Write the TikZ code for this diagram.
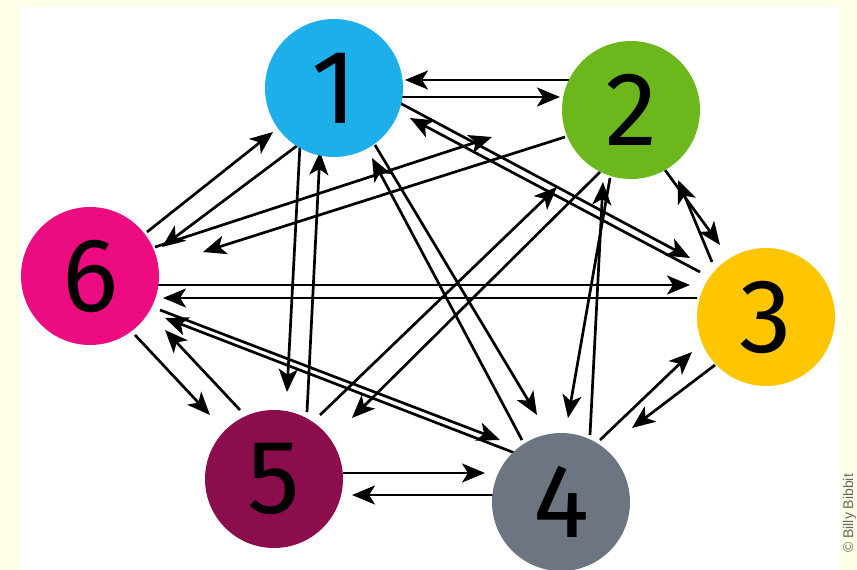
\documentclass[tikz,border=0pt]{standalone}
\usepackage{fontspec}
\setmainfont{Fira Sans}
\newfontfamily\crfont{Liberation Sans}
\usetikzlibrary{arrows.meta,calc,backgrounds}
\pgfdeclarelayer{arrows}
\pgfsetlayers{background,arrows,main}
\definecolor{bgyellow}{HTML}{FFFFE8}
\definecolor{c1}{HTML}{1CAFE9}
\definecolor{c2}{HTML}{6CB81C}
\definecolor{c3}{HTML}{FEC600}
\definecolor{c4}{HTML}{6C7581}
\definecolor{c5}{HTML}{8B0D4B}
\definecolor{c6}{HTML}{EC0B80}
\begin{document}
\begin{tikzpicture}[x=1pt,y=-1pt,
  ball/.style={circle,minimum size=138pt,inner sep=0pt,font=\fontsize{105}{105}\selectfont},
  arr/.style={line width=2.7pt,black,-{Stealth[length=23pt,width=19pt,inset=6pt]}}]
\useasboundingbox (0,0) rectangle (857,570);
\begin{scope}[on background layer]
\fill[bgyellow] (0,0) rectangle (857,570);
\fill[white] (20,6) rectangle (840,570);
\end{scope}
\node[ball,fill=c1] (n1) at (334,88) {1};
\node[ball,fill=c2] (n2) at (631,110) {2};
\node[ball,fill=c3] (n3) at (766,317) {3};
\node[ball,fill=c4] (n4) at (561,502) {4};
\node[ball,fill=c5] (n5) at (274,479) {5};
\node[ball,fill=c6] (n6) at (90,276) {6};
\node[rotate=90,anchor=base west,inner sep=0pt,text=gray!80!black,font=\crfont\fontsize{14}{14}\selectfont] (cr) at (853,553) {© Billy Bibbit};
\begin{pgfonlayer}{arrows}
\draw[arr] ($(n1)+(61,9)$) -- ($(n2)+(-71,-13)$);
\draw[arr] ($(n2)+(-62,-30)$) -- ($(n1)+(71,-8)$);
\draw[arr] ($(n1)+(64,14)$) -- ($(n3)+(-76,-59)$);
\draw[arr] ($(n3)+(-66,-45)$) -- ($(n1)+(76,30)$);
\draw[arr] ($(n1)+(41,57)$) -- ($(n4)+(-24,-87)$);
\draw[arr] ($(n4)+(-39,-62)$) -- ($(n1)+(38,70)$);
\draw[arr] ($(n1)+(-34,57)$) -- ($(n5)+(13,-87)$);
\draw[arr] ($(n5)+(33,-67)$) -- ($(n1)+(-14,64)$);
\draw[arr] ($(n6)+(57,-44)$) -- ($(n1)+(-61,44)$);
\draw[arr] ($(n1)+(-32,54)$) -- ($(n6)+(72,-29)$);
\draw[arr] ($(n2)+(-66,27)$) -- ($(n6)+(113,-24)$);
\draw[arr] ($(n6)+(65,-29)$) -- ($(n2)+(-139,27)$);
\draw[arr] ($(n2)+(34,60)$) -- ($(n3)+(-46,-72)$);
\draw[arr] ($(n3)+(-54,-55)$) -- ($(n2)+(47,70)$);
\draw[arr] ($(n2)+(-21,68)$) -- ($(n4)+(7,-84)$);
\draw[arr] ($(n4)+(29,-67)$) -- ($(n2)+(-28,72)$);
\draw[arr] ($(n2)+(-31,62)$) -- ($(n5)+(78,-61)$);
\draw[arr] ($(n5)+(46,-64)$) -- ($(n2)+(-74,77)$);
\draw[arr] ($(n3)+(-51,48)$) -- ($(n4)+(71,-74)$);
\draw[arr] ($(n4)+(39,-62)$) -- ($(n3)+(-74,35)$);
\draw[arr] ($(n6)+(68,9)$) -- ($(n3)+(-76,-32)$);
\draw[arr] ($(n3)+(-69,-19)$) -- ($(n6)+(73,22)$);
\draw[arr] ($(n6)+(70,34)$) -- ($(n4)+(-61,-62)$);
\draw[arr] ($(n4)+(-41,-47)$) -- ($(n6)+(75,42)$);
\draw[arr] ($(n5)+(69,-6)$) -- ($(n4)+(-76,-29)$);
\draw[arr] ($(n4)+(-66,-7)$) -- ($(n5)+(78,16)$);
\draw[arr] ($(n6)+(45,59)$) -- ($(n5)+(-64,-64)$);
\draw[arr] ($(n5)+(-34,-69)$) -- ($(n6)+(75,54)$);
\end{pgfonlayer}
\end{tikzpicture}
\end{document}
